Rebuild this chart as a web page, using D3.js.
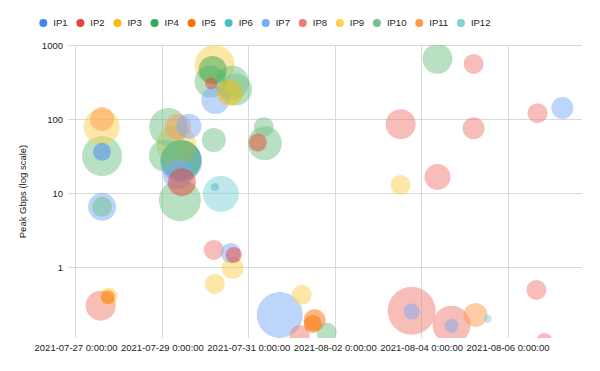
<!DOCTYPE html>
<html><head><meta charset="utf-8">
<script src="https://cdn.jsdelivr.net/npm/d3@7"></script>
<style>
html,body{margin:0;padding:0;background:#fff;}
svg{display:block;font-family:Arial,"Liberation Sans",sans-serif;}
</style></head>
<body><svg id="chart" width="600" height="371"></svg>
<script>
const seriesNames = ["IP1","IP2","IP3","IP4","IP5","IP6","IP7","IP8","IP9","IP10","IP11","IP12"];
const seriesColors = ["#4285F4","#EA4335","#FBBC04","#34A853","#FF6D01","#46BDC6","#7BAAF7","#F07B72","#FCD04F","#71C287","#FF994D","#7ED1D7"];
const xTickDates = ["2021-07-27","2021-07-29","2021-07-31","2021-08-02","2021-08-04","2021-08-06"];
const yTickValues = [1, 10, 100, 1000];

// bubble data (series, time, peak Gbps, bubble size)
const bubbleSeries = [
 "IP9","IP11","IP10","IP1","IP7","IP10","IP8","IP9","IP5",
 "IP10","IP11","IP7","IP9","IP10","IP1","IP4","IP7","IP2","IP10",
 "IP9","IP10","IP4","IP10","IP10","IP3","IP7","IP2",
 "IP10","IP12","IP6","IP10","IP10","IP2",
 "IP8","IP7","IP2","IP9","IP9",
 "IP7","IP9","IP5","IP5","IP8","IP10",
 "IP10","IP8","IP8","IP8","IP8","IP7","IP8","IP9",
 "IP8","IP7","IP8","IP7","IP11","IP12","IP8","IP8"
];
const bubbleTimes = [
 "2021-07-27T14:30","2021-07-27T14:45","2021-07-27T14:45","2021-07-27T14:45","2021-07-27T14:45","2021-07-27T14:45","2021-07-27T14:00","2021-07-27T18:30","2021-07-27T18:00",
 "2021-07-29T03:30","2021-07-29T08:50","2021-07-29T15:00","2021-07-29T08:00","2021-07-29T01:40","2021-07-29T10:40","2021-07-29T10:40","2021-07-29T08:50","2021-07-29T11:05","2021-07-29T10:00",
 "2021-07-30T05:20","2021-07-30T03:00","2021-07-30T04:10","2021-07-30T15:00","2021-07-30T17:10","2021-07-30T13:45","2021-07-30T05:40","2021-07-30T03:20",
 "2021-07-30T04:50","2021-07-30T08:45","2021-07-30T05:25","2021-07-31T09:10","2021-07-31T08:35","2021-07-31T05:15",
 "2021-07-30T04:50","2021-07-30T14:15","2021-07-30T15:55","2021-07-30T15:20","2021-07-30T05:25",
 "2021-07-31T17:30","2021-08-01T05:40","2021-08-01T12:50","2021-08-01T11:45","2021-08-01T04:35","2021-08-01T19:30",
 "2021-08-04T09:05","2021-08-05T05:10","2021-08-03T12:40","2021-08-05T05:10","2021-08-06T16:40","2021-08-07T06:30","2021-08-04T09:05","2021-08-03T12:35",
 "2021-08-03T18:45","2021-08-03T18:45","2021-08-04T16:55","2021-08-04T16:55","2021-08-05T06:15","2021-08-05T12:55","2021-08-06T16:05","2021-08-06T20:30"
];
const bubblePeaks = [
 78, 100, 31.6, 36, 6.5, 6.5, 0.3, 0.4, 0.39,
 78, 78, 80, 45, 32, 27, 28, 18, 14, 8,
 540, 320, 460, 310, 250, 225, 180, 305,
 52, 9.7, 12, 47, 78, 48,
 1.7, 1.55, 1.45, 0.97, 0.59,
 0.225, 0.42, 0.19, 0.17, 0.12, 0.13,
 650, 555, 85, 75, 120, 141, 16.5, 12.8,
 0.255, 0.25, 0.165, 0.16, 0.225, 0.2, 0.49, 0.1
];
const bubbleSizes = [
 18, 12, 20, 9, 14, 10, 15, 9, 7,
 19, 13, 12.5, 20, 16, 21, 20, 15, 14, 21,
 20, 16, 14, 17, 16, 13, 14, 6,
 12, 18, 4, 17, 10, 9,
 10, 10, 8, 11, 10,
 23, 10, 11, 9, 10, 10,
 15, 10, 15, 11, 10, 11, 13, 10,
 24, 8, 19, 7, 12, 4, 10, 8
];

const W = 600, H = 371;
const plot = {left: 68, right: 582, top: 45, bottom: 338};
const svg = d3.select("#chart");
const parse = d3.utcParse("%Y-%m-%dT%H:%M");
const parseDay = d3.utcParse("%Y-%m-%d");

const t0 = parseDay("2021-07-27");
const dayMs = 864e5;
const x = d3.scaleUtc()
  .domain([new Date(+t0 - 0.1736 * dayMs), new Date(+t0 + 11.7245 * dayMs)])
  .range([plot.left, plot.right]);
const y = d3.scaleLog().domain([0.1096, 1000]).range([plot.bottom, plot.top]);
const r = d3.scaleLinear().domain([0, 24]).range([0, 24]);
const color = d3.scaleOrdinal().domain(seriesNames).range(seriesColors);

// gridlines
const grid = svg.append("g");
grid.selectAll("line.h").data(yTickValues).join("line")
  .attr("x1", plot.left).attr("x2", plot.right)
  .attr("y1", d => Math.round(y(d)) + 0.5).attr("y2", d => Math.round(y(d)) + 0.5)
  .attr("stroke", "#d9d9d9").attr("stroke-width", 1);
const xTicks = xTickDates.map(parseDay);
grid.selectAll("line.v").data(xTicks).join("line")
  .attr("x1", d => Math.round(x(d)) + 0.5).attr("x2", d => Math.round(x(d)) + 0.5)
  .attr("y1", plot.top).attr("y2", plot.bottom)
  .attr("stroke", "#d9d9d9").attr("stroke-width", 1);

// axes (text only)
const yAxis = d3.axisLeft(y).tickValues(yTickValues).tickFormat(d3.format("d")).tickSize(0).tickPadding(5);
const gy = svg.append("g").attr("transform", `translate(${plot.left},0)`).call(yAxis);
gy.select(".domain").remove();
gy.selectAll("text").attr("font-size", 9.5).attr("fill", "#222").attr("font-family", "Arial, 'Liberation Sans', sans-serif");

const fmt = d3.utcFormat("%Y-%m-%d %-H:%M:%S");
const xAxis = d3.axisBottom(x).tickValues(xTicks).tickFormat(fmt).tickSize(0).tickPadding(6);
const gx = svg.append("g").attr("transform", `translate(0,${plot.bottom})`).call(xAxis);
gx.select(".domain").remove();
gx.selectAll("text").attr("font-size", 9.5).attr("fill", "#222").attr("font-family", "Arial, 'Liberation Sans', sans-serif");

// y-axis title
svg.append("text")
  .attr("transform", `translate(26,${(plot.top + plot.bottom) / 2}) rotate(-90)`)
  .attr("text-anchor", "middle")
  .attr("font-size", 9.5).attr("fill", "#222")
  .text("Peak Gbps (log scale)");

// bubbles
svg.append("clipPath").attr("id", "clip").append("rect")
  .attr("x", plot.left).attr("y", plot.top)
  .attr("width", plot.right - plot.left).attr("height", plot.bottom - plot.top);

const bubbles = bubbleSeries.map((s, i) => ({
  series: s, time: parse(bubbleTimes[i]), peak: bubblePeaks[i], size: bubbleSizes[i]
})).sort((a, b) => b.size - a.size);

svg.append("g").attr("clip-path", "url(#clip)")
  .selectAll("circle").data(bubbles).join("circle")
  .attr("cx", d => x(d.time)).attr("cy", d => y(d.peak)).attr("r", d => r(d.size))
  .attr("fill", d => color(d.series)).attr("fill-opacity", 0.5);

// legend
const legend = svg.append("g").attr("transform", "translate(0,23)");
let lx = 43.3;
seriesNames.forEach(name => {
  const g = legend.append("g").attr("transform", `translate(${lx},0)`);
  g.append("circle").attr("r", 4).attr("fill", color(name));
  const t = g.append("text").attr("x", 10).attr("dy", "0.35em")
    .attr("font-size", 9.5).attr("fill", "#222").text(name);
  lx += 10 + t.node().getComputedTextLength() + 12.8;
});
</script>
</body></html>
